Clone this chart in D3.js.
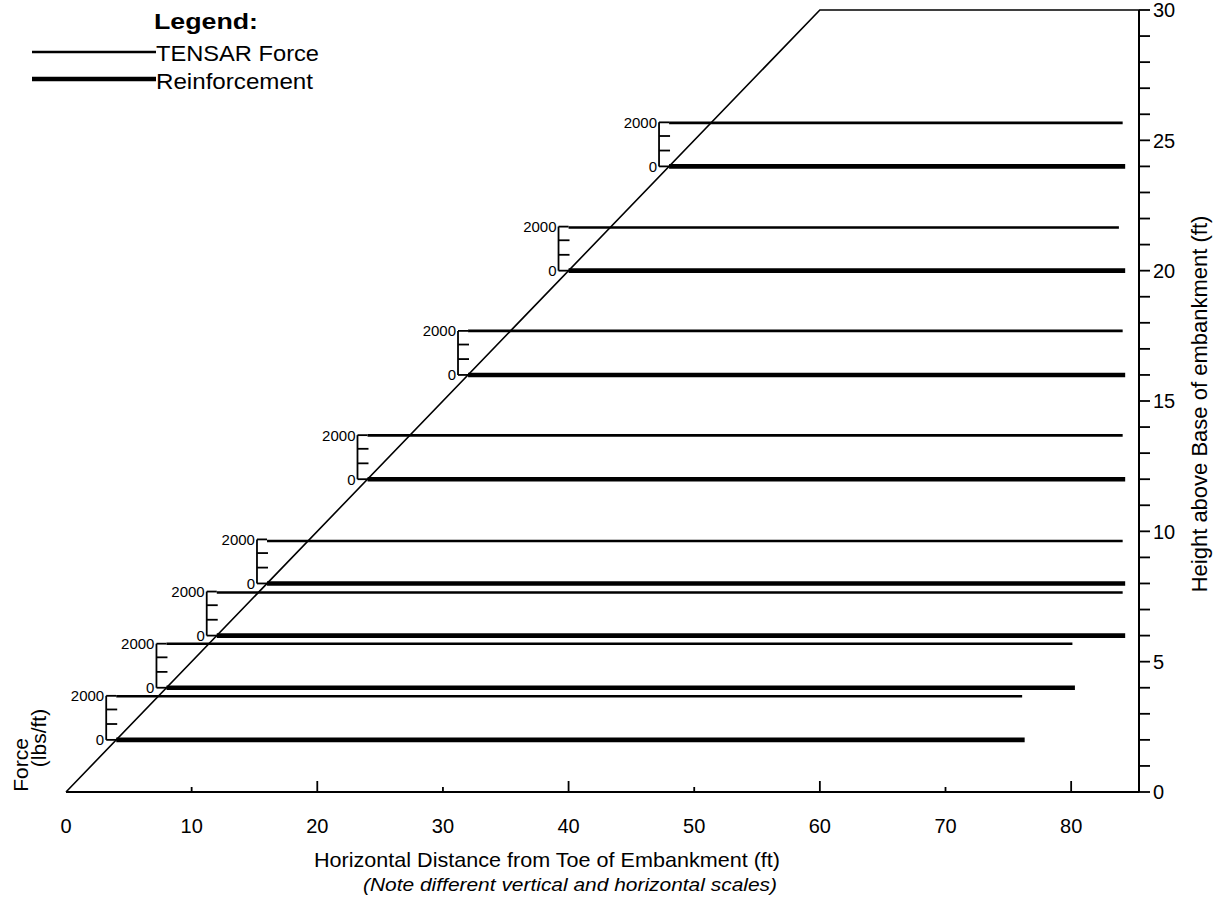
<!DOCTYPE html>
<html>
<head>
<meta charset="utf-8">
<script src="https://cdn.jsdelivr.net/npm/d3@7"></script>
<style>
  html, body { margin: 0; padding: 0; background: #fff; }
  svg { display: block; }
  text { font-family: "Liberation Sans", Arial, Helvetica, sans-serif; fill: #000; }
</style>
</head>
<body>
<svg id="chart" width="1221" height="905"></svg>
<script>
// ---------------- data ----------------
const layerHeights   = [2, 4, 6, 8, 12, 16, 20, 24];          // ft above base
const reinfStart     = [4, 8, 12, 16, 24, 32, 40, 48];        // ft from toe (on slope face)
const reinfEnd       = [76.3, 80.3, 84.3, 84.3, 84.3, 84.3, 84.3, 84.3];
const tensarForce    = [1980, 2000, 1960, 1930, 1990, 2000, 1960, 1975]; // lbs/ft
const tensarEnd      = [76.1, 80.1, 84.1, 84.1, 84.1, 84.1, 83.8, 84.1];
const slopeX         = [0, 60, 85.4];
const slopeY         = [0, 30, 30];
const xTickValues    = [0, 10, 20, 30, 40, 50, 60, 70, 80];
const xMajorTicks    = [20, 40, 60, 80];
const xMinorTicks    = [10, 30, 50, 70];
const yTickValues    = d3.range(0, 31, 1);
const yLabelValues   = [0, 5, 10, 15, 20, 25, 30];
const forceTicks     = [0, 720, 1380, 2000];
const forceLabels    = [0, 2000];

// ---------------- scales ----------------
const svg = d3.select("#chart");
const x = d3.scaleLinear().domain([0, 85.4]).range([66, 1139]);
const y = d3.scaleLinear().domain([0, 30]).range([792, 10]);
const fScale = d3.scaleLinear().domain([0, 2000]).range([0, 1.69]); // force -> ft of height
const bracketOffset = 0.8; // ft left of reinforcement start

// ---------------- slope ----------------
const slope = slopeX.map((d, i) => [d, slopeY[i]]);
svg.append("path")
  .attr("d", d3.line().x(d => x(d[0])).y(d => y(d[1]))(slope))
  .attr("fill", "none").attr("stroke", "#000").attr("stroke-width", 1.6);

// ---------------- layers ----------------
const layers = layerHeights.map((h, i) => ({
  h, s: reinfStart[i], re: reinfEnd[i], f: tensarForce[i], te: tensarEnd[i]
}));

const g = svg.append("g");
// reinforcement (thick)
g.selectAll("line.reinf").data(layers).join("line")
  .attr("class", "reinf")
  .attr("x1", d => x(d.s)).attr("x2", d => x(d.re))
  .attr("y1", d => y(d.h)).attr("y2", d => y(d.h))
  .attr("stroke", "#000").attr("stroke-width", 4.6);

// TENSAR force (thin)
g.selectAll("line.tensar").data(layers).join("line")
  .attr("class", "tensar")
  .attr("x1", d => x(d.s)).attr("x2", d => x(d.te))
  .attr("y1", d => y(d.h + fScale(d.f))).attr("y2", d => y(d.h + fScale(d.f)))
  .attr("stroke", "#000").attr("stroke-width", 2.6);

// force brackets
layers.forEach(d => {
  const bx = x(d.s - bracketOffset);
  const bg = g.append("g");
  bg.append("line")
    .attr("x1", bx).attr("x2", bx)
    .attr("y1", y(d.h)).attr("y2", y(d.h + fScale(2000)))
    .attr("stroke", "#000").attr("stroke-width", 1.8);
  // top & bottom ticks reach the line start
  bg.append("line")
    .attr("x1", bx).attr("x2", x(d.s))
    .attr("y1", y(d.h + fScale(2000))).attr("y2", y(d.h + fScale(2000)))
    .attr("stroke", "#000").attr("stroke-width", 1.8);
  bg.append("line")
    .attr("x1", bx).attr("x2", x(d.s))
    .attr("y1", y(d.h)).attr("y2", y(d.h))
    .attr("stroke", "#000").attr("stroke-width", 1.8);
  // inner ticks
  bg.selectAll("line.ft").data(forceTicks.filter(t => t > 0 && t < 2000)).join("line")
    .attr("class", "ft")
    .attr("x1", bx).attr("x2", bx + 11)
    .attr("y1", t => y(d.h + fScale(t))).attr("y2", t => y(d.h + fScale(t)))
    .attr("stroke", "#000").attr("stroke-width", 1.8);
  bg.selectAll("text").data(forceLabels).join("text")
    .attr("x", bx - 2)
    .attr("y", t => y(d.h + fScale(t)))
    .attr("dy", "0.36em")
    .attr("text-anchor", "end")
    .attr("font-size", 15)
    .text(t => t);
});

// ---------------- bottom axis ----------------
const axB = svg.append("g");
axB.append("line")
  .attr("x1", x(0)).attr("x2", x(85.4)).attr("y1", y(0)).attr("y2", y(0))
  .attr("stroke", "#000").attr("stroke-width", 2);
axB.selectAll("line.maj").data(xMajorTicks).join("line")
  .attr("class", "maj")
  .attr("x1", d => x(d)).attr("x2", d => x(d))
  .attr("y1", y(0)).attr("y2", y(0) - 11)
  .attr("stroke", "#000").attr("stroke-width", 1.8);
axB.selectAll("line.min").data(xMinorTicks).join("line")
  .attr("class", "min")
  .attr("x1", d => x(d)).attr("x2", d => x(d))
  .attr("y1", y(0)).attr("y2", y(0) - 5)
  .attr("stroke", "#000").attr("stroke-width", 1.8);
axB.selectAll("text").data(xTickValues).join("text")
  .attr("x", d => x(d)).attr("y", 833)
  .attr("text-anchor", "middle").attr("font-size", 20)
  .text(d => d);

// ---------------- right axis ----------------
const axR = svg.append("g");
axR.append("line")
  .attr("x1", x(85.4)).attr("x2", x(85.4)).attr("y1", y(0)).attr("y2", y(30))
  .attr("stroke", "#000").attr("stroke-width", 2);
axR.selectAll("line").filter(".t").data(yTickValues).join("line")
  .attr("class", "t")
  .attr("x1", x(85.4)).attr("x2", x(85.4) + 11)
  .attr("y1", d => y(d)).attr("y2", d => y(d))
  .attr("stroke", "#000").attr("stroke-width", 1.8);
axR.selectAll("text").data(yLabelValues).join("text")
  .attr("x", x(85.4) + 14).attr("y", d => y(d))
  .attr("dy", "0.36em").attr("font-size", 20)
  .text(d => d);

// ---------------- titles ----------------
svg.append("text")
  .attr("x", 547).attr("y", 867).attr("text-anchor", "middle")
  .attr("font-size", 21).attr("textLength", 466).attr("lengthAdjust", "spacingAndGlyphs")
  .text("Horizontal Distance from Toe of Embankment (ft)");
svg.append("text")
  .attr("x", 570).attr("y", 891).attr("text-anchor", "middle")
  .attr("font-size", 19).attr("font-style", "italic")
  .attr("textLength", 414).attr("lengthAdjust", "spacingAndGlyphs")
  .text("(Note different vertical and horizontal scales)");
svg.append("text")
  .attr("transform", "translate(1207,404) rotate(-90)")
  .attr("text-anchor", "middle").attr("font-size", 22)
  .text("Height above Base of embankment (ft)");
svg.append("text")
  .attr("transform", "translate(28,765) rotate(-90)")
  .attr("text-anchor", "middle").attr("font-size", 21)
  .text("Force");
svg.append("text")
  .attr("transform", "translate(46,738) rotate(-90)")
  .attr("text-anchor", "middle").attr("font-size", 21)
  .text("(lbs/ft)");

// ---------------- legend ----------------
const leg = svg.append("g");
leg.append("text").attr("x", 154).attr("y", 29)
  .attr("font-size", 22).attr("font-weight", "bold")
  .attr("textLength", 104).attr("lengthAdjust", "spacingAndGlyphs")
  .text("Legend:");
leg.append("line").attr("x1", 32).attr("x2", 156).attr("y1", 52).attr("y2", 52)
  .attr("stroke", "#000").attr("stroke-width", 2.4);
leg.append("text").attr("x", 156).attr("y", 61).attr("font-size", 22)
  .attr("textLength", 163).attr("lengthAdjust", "spacingAndGlyphs")
  .text("TENSAR Force");
leg.append("line").attr("x1", 32).attr("x2", 156).attr("y1", 79).attr("y2", 79)
  .attr("stroke", "#000").attr("stroke-width", 4.6);
leg.append("text").attr("x", 156).attr("y", 89).attr("font-size", 22)
  .attr("textLength", 157).attr("lengthAdjust", "spacingAndGlyphs")
  .text("Reinforcement");
</script>
</body>
</html>
